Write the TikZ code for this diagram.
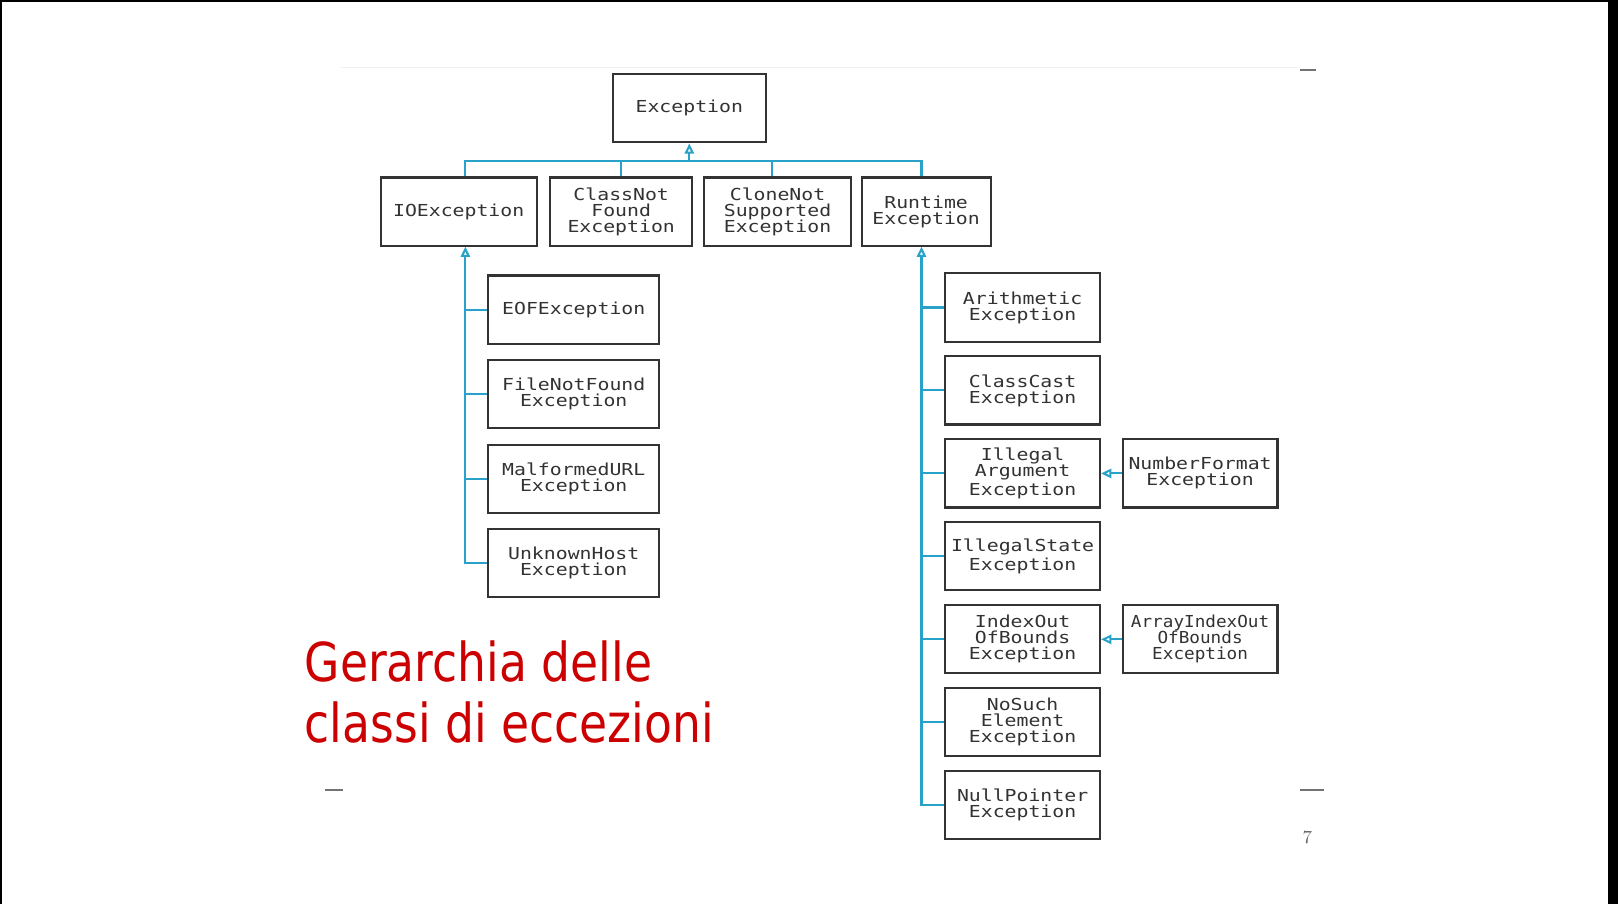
\documentclass[tikz,border=0pt]{standalone}
\usepackage{fontspec}
\usepackage{tikz}
\usetikzlibrary{positioning}
\usetikzlibrary{arrows.meta}
\newfontfamily\boxfont[FakeStretch=1.2]{DejaVu Sans Mono}
\newfontfamily\boxfontn[FakeStretch=1.07]{DejaVu Sans Mono}
\newfontfamily\titlefont[FakeStretch=0.85]{DejaVu Sans}
\definecolor{linkblue}{RGB}{40,162,200}
\definecolor{titlered}{RGB}{204,0,0}
\definecolor{boxtext}{RGB}{50,50,50}

\begin{document}
\begin{tikzpicture}[x=0.5pt,y=-0.5pt,
  cls/.style={draw=black!80,line width=1pt,rectangle,inner sep=0pt,minimum height=33pt,
    align=center,text=boxtext,font=\boxfont\fontsize{8}{7.75}\selectfont},
  iosub/.style={cls,minimum width=83pt},
  rtsub/.style={cls,minimum width=75pt},
  link/.style={draw=linkblue,line width=1pt},
  isa/.style={link,-{Triangle[open,length=5pt,width=4.5pt]}}]
\useasboundingbox (0,0) rectangle (1568,876);
% frame of the slide
\fill[black] (0,0) rectangle (2,876);
\fill[black] (0,0) rectangle (1568,2);
\fill[black] (1558,0) rectangle (1568,876);
\draw[black!6] (330,65) -- (1258,65);

% top of the hierarchy
\node[cls,minimum width=74pt] (exc) at (668,105) {Exception};
\node[cls,minimum width=75.5pt] (io) at (444.5,205) {IOException};
\node[cls,minimum width=69pt] (cnf) at (602,205) {ClassNot\\Found\\Exception};
\node[cls,minimum width=71.5pt] (cns) at (753.5,205) {CloneNot\\Supported\\Exception};
\node[cls,minimum width=62.5pt] (rt) at (897.5,205) {Runtime\\Exception};

% IOException subclasses
\node[iosub] (eof) at (556,300) {EOFException};
\node[iosub,below=7pt of eof] (fnf) {FileNotFound\\Exception};
\node[iosub,below=7pt of fnf] (mal) {MalformedURL\\Exception};
\node[iosub,below=7pt of mal] (unk) {UnknownHost\\Exception};

% RuntimeException subclasses
\node[rtsub] (ari) at (991,298) {Arithmetic\\Exception};
\node[rtsub,below=6.2pt of ari] (cc) {ClassCast\\Exception};
\node[rtsub,below=6.2pt of cc] (ia) {Illegal\\Argument\\Exception};
\node[rtsub,below=6.2pt of ia] (is) {IllegalState\\Exception};
\node[rtsub,below=6.2pt of is] (ioob) {IndexOut\\OfBounds\\Exception};
\node[rtsub,below=6.2pt of ioob] (nse) {NoSuch\\Element\\Exception};
\node[rtsub,below=6.2pt of nse] (npe) {NullPointer\\Exception};
\node[rtsub,right=10pt of ia] (nfe) {NumberFormat\\Exception};
\node[rtsub,right=10pt of ioob,font=\boxfontn\fontsize{8}{7.75}\selectfont] (aioob) {ArrayIndexOut\\OfBounds\\Exception};

% connectors
\coordinate (bus) at (668,156);
\coordinate (iotrunk) at ([xshift=3.25pt]io.south);
\coordinate (rttrunk) at ([xshift=-2.25pt]rt.south);
\draw[link] (iotrunk |- io.north) |- (bus) -| (rttrunk |- rt.north);
\draw[link] (cnf.north) -- (cnf.north |- bus);
\draw[link] ([xshift=-2.75pt]cns.north) -- ([xshift=-2.75pt]cns.north |- bus);
\draw[isa] (bus) -- (exc.south);
\foreach \n in {eof,fnf,mal}
  \draw[link] (\n.west) -- (\n.west -| iotrunk);
\draw[isa] (unk.west) -| (iotrunk);
\foreach \n in {ari,cc,ia,is,ioob,nse}
  \draw[link] (\n.west) -- (\n.west -| rttrunk);
\draw[isa] (npe.west) -| (rttrunk);
\draw[isa] (nfe.west) -- (ia.east);
\draw[isa] (aioob.west) -- (ioob.east);

% title and page marks
\node[anchor=base west,align=left,inner sep=0pt,text=titlered,
  font=\titlefont\fontsize{26}{30}\selectfont] (title) at (295,720) {Gerarchia delle\\classi di eccezioni};
\draw[black!55,line width=1pt] (1260,68) -- (1275,68);
\draw[black!55,line width=1pt] (315,766) -- (332,766);
\draw[black!55,line width=1pt] (1260,766) -- (1283,766);
\node[text=black!60,font=\fontsize{9}{9}\selectfont,inner sep=0pt] (pagenum) at (1267,812) {7};
\end{tikzpicture}
\end{document}
